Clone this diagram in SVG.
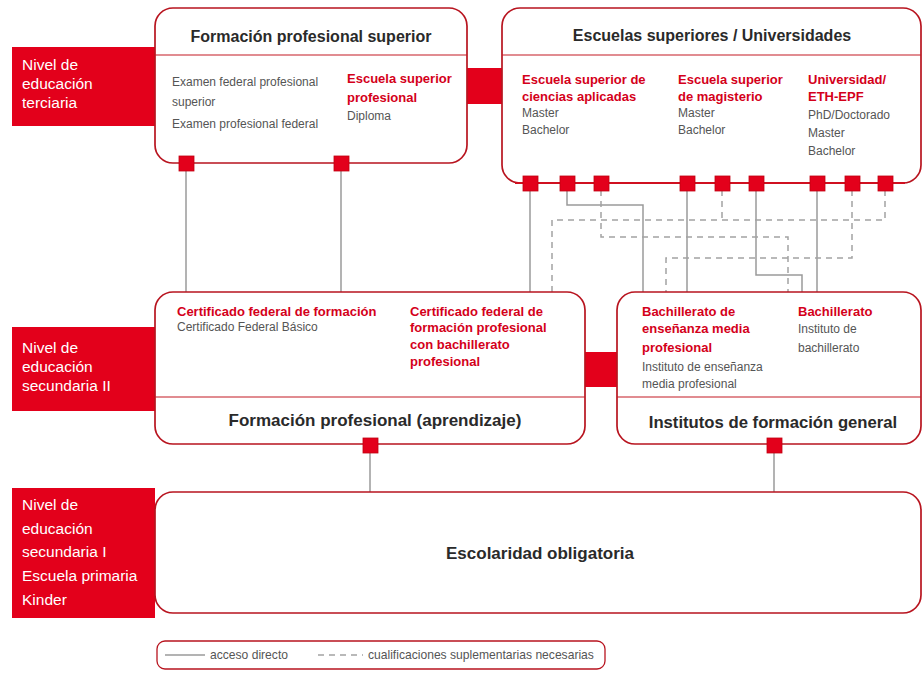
<svg xmlns="http://www.w3.org/2000/svg" width="923" height="675" viewBox="0 0 923 675">
<style>
  text { font-family: "Liberation Sans", Arial, sans-serif; }
  .lvl { fill: #e3001b; }
  .lvlt { fill: #ffffff; font-size: 15.5px; }
  .box { fill: #ffffff; stroke: #b8141f; stroke-width: 1.7; }
  .div { stroke: #c41a24; stroke-width: 1.2; }
  .title { fill: #2a2a2a; font-size: 16px; font-weight: bold; text-anchor: middle; }
  .title2 { fill: #2a2a2a; font-size: 17px; font-weight: bold; text-anchor: middle; }
  .rb { fill: #d4001a; font-size: 13px; font-weight: bold; }
  .g { fill: #555555; font-size: 12px; }
  .sq { fill: #e3001b; stroke: #c00010; stroke-width: 0.8; }
  .bar { fill: #e3001b; }
  .solid { fill: none; stroke: #9a9a9a; stroke-width: 1.5; }
  .dash { fill: none; stroke: #a3a3a3; stroke-width: 1.5; stroke-dasharray: 6 5; }
  .leg { fill: #555555; font-size: 12.1px; }
</style>

<!-- Level labels -->
<g id="level-terciaria">
  <rect class="lvl" x="12" y="47" width="143" height="79"/>
  <text class="lvlt" x="22" y="70">Nivel de</text>
  <text class="lvlt" x="22" y="89">educación</text>
  <text class="lvlt" x="22" y="108">terciaria</text>
</g>
<g id="level-secundaria2">
  <rect class="lvl" x="12" y="327" width="143" height="84"/>
  <text class="lvlt" x="22" y="353">Nivel de</text>
  <text class="lvlt" x="22" y="372">educación</text>
  <text class="lvlt" x="22" y="391">secundaria II</text>
</g>
<g id="level-secundaria1">
  <rect class="lvl" x="12" y="488" width="143" height="130"/>
  <text class="lvlt" x="22" y="510">Nivel de</text>
  <text class="lvlt" x="22" y="534">educación</text>
  <text class="lvlt" x="22" y="557">secundaria I</text>
  <text class="lvlt" x="22" y="581">Escuela primaria</text>
  <text class="lvlt" x="22" y="605">Kinder</text>
</g>

<!-- Connectors -->
<g id="connectors">
  <rect class="bar" x="466" y="68" width="37" height="36"/>
  <rect class="bar" x="584" y="352" width="34" height="35"/>
  <path class="solid" d="M186 170 V292"/>
  <path class="solid" d="M341 170 V292"/>
  <path class="solid" d="M530 190 V292"/>
  <path class="solid" d="M567 190 V205 H643 V292"/>
  <path class="solid" d="M687 190 V292"/>
  <path class="solid" d="M756 190 V275 H802 V292"/>
  <path class="solid" d="M817 190 V292"/>
  <path class="solid" d="M370 452 V492"/>
  <path class="solid" d="M774 452 V492"/>
  <path class="dash" d="M601 190 V237 H788 V292"/>
  <path class="dash" d="M722 190 V220"/>
  <path class="dash" d="M885 190 V220 H552 V292"/>
  <path class="dash" d="M852 190 V258 H666 V292"/>
</g>

<!-- Tertiary nodes -->
<g id="node-fps">
  <rect class="box" x="155" y="8" width="312" height="155" rx="18"/>
  <line class="div" x1="155" y1="55" x2="467" y2="55"/>
  <text class="title" x="311" y="42">Formación profesional superior</text>
  <text class="g" x="172" y="86">Examen federal profesional</text>
  <text class="g" x="172" y="106">superior</text>
  <text class="g" x="172" y="128">Examen profesional federal</text>
  <text class="rb" x="347" y="83">Escuela superior</text>
  <text class="rb" x="347" y="102">profesional</text>
  <text class="g" x="347" y="120">Diploma</text>
  <rect class="sq" x="179" y="156" width="15" height="15"/>
  <rect class="sq" x="334" y="156" width="15" height="15"/>
</g>

<g id="node-universidades">
  <rect class="box" x="502" y="8" width="419" height="175" rx="18"/>
  <line class="div" x1="502" y1="55" x2="921" y2="55"/>
  <line x1="515" y1="183" x2="905" y2="183" stroke="#d01020" stroke-width="2.2"/>
  <text class="title" x="712" y="41">Escuelas superiores / Universidades</text>
  <text class="rb" x="522" y="84">Escuela superior de</text>
  <text class="rb" x="522" y="101">ciencias aplicadas</text>
  <text class="g" x="522" y="117">Master</text>
  <text class="g" x="522" y="134">Bachelor</text>
  <text class="rb" x="678" y="84">Escuela superior</text>
  <text class="rb" x="678" y="101">de magisterio</text>
  <text class="g" x="678" y="117">Master</text>
  <text class="g" x="678" y="134">Bachelor</text>
  <text class="rb" x="808" y="84">Universidad/</text>
  <text class="rb" x="808" y="101">ETH-EPF</text>
  <text class="g" x="808" y="119">PhD/Doctorado</text>
  <text class="g" x="808" y="137">Master</text>
  <text class="g" x="808" y="155">Bachelor</text>
  <rect class="sq" x="523" y="176" width="15" height="15"/>
  <rect class="sq" x="560" y="176" width="15" height="15"/>
  <rect class="sq" x="594" y="176" width="15" height="15"/>
  <rect class="sq" x="680" y="176" width="15" height="15"/>
  <rect class="sq" x="715" y="176" width="15" height="15"/>
  <rect class="sq" x="749" y="176" width="15" height="15"/>
  <rect class="sq" x="810" y="176" width="15" height="15"/>
  <rect class="sq" x="845" y="176" width="15" height="15"/>
  <rect class="sq" x="878" y="176" width="15" height="15"/>
</g>

<!-- Secondary II nodes -->
<g id="node-fp-aprendizaje">
  <rect class="box" x="155" y="292" width="430" height="152" rx="18"/>
  <line class="div" x1="155" y1="397" x2="585" y2="397"/>
  <text class="rb" x="177" y="316">Certificado federal de formación</text>
  <text class="g" x="177" y="331">Certificado Federal Básico</text>
  <text class="rb" x="410" y="316">Certificado federal de</text>
  <text class="rb" x="410" y="332">formación profesional</text>
  <text class="rb" x="410" y="349">con bachillerato</text>
  <text class="rb" x="410" y="366">profesional</text>
  <text class="title2" x="375" y="426">Formación profesional (aprendizaje)</text>
  <rect class="sq" x="363" y="438" width="15" height="15"/>
</g>

<g id="node-institutos">
  <rect class="box" x="617" y="292" width="304" height="152" rx="18"/>
  <line class="div" x1="617" y1="397" x2="921" y2="397"/>
  <text class="rb" x="642" y="316">Bachillerato de</text>
  <text class="rb" x="642" y="333">enseñanza media</text>
  <text class="rb" x="642" y="352">profesional</text>
  <text class="g" x="642" y="371">Instituto de enseñanza</text>
  <text class="g" x="642" y="388">media profesional</text>
  <text class="rb" x="798" y="316">Bachillerato</text>
  <text class="g" x="798" y="333">Instituto de</text>
  <text class="g" x="798" y="352">bachillerato</text>
  <text class="title2" x="773" y="428" style="font-size:16.7px">Institutos de formación general</text>
  <rect class="sq" x="767" y="438" width="15" height="15"/>
</g>

<!-- Compulsory -->
<g id="node-escolaridad">
  <rect class="box" x="155" y="492" width="766" height="121" rx="18"/>
  <text class="title2" x="540" y="559">Escolaridad obligatoria</text>
</g>

<!-- Legend -->
<g id="legend">
  <rect x="157" y="641" width="448" height="28" rx="8" fill="#ffffff" stroke="#b8141f" stroke-width="1.3"/>
  <line class="solid" x1="165" y1="655" x2="205" y2="655"/>
  <text class="leg" x="210" y="659">acceso directo</text>
  <line class="dash" x1="318" y1="655" x2="363" y2="655"/>
  <text class="leg" x="368" y="659">cualificaciones suplementarias necesarias</text>
</g>
</svg>
